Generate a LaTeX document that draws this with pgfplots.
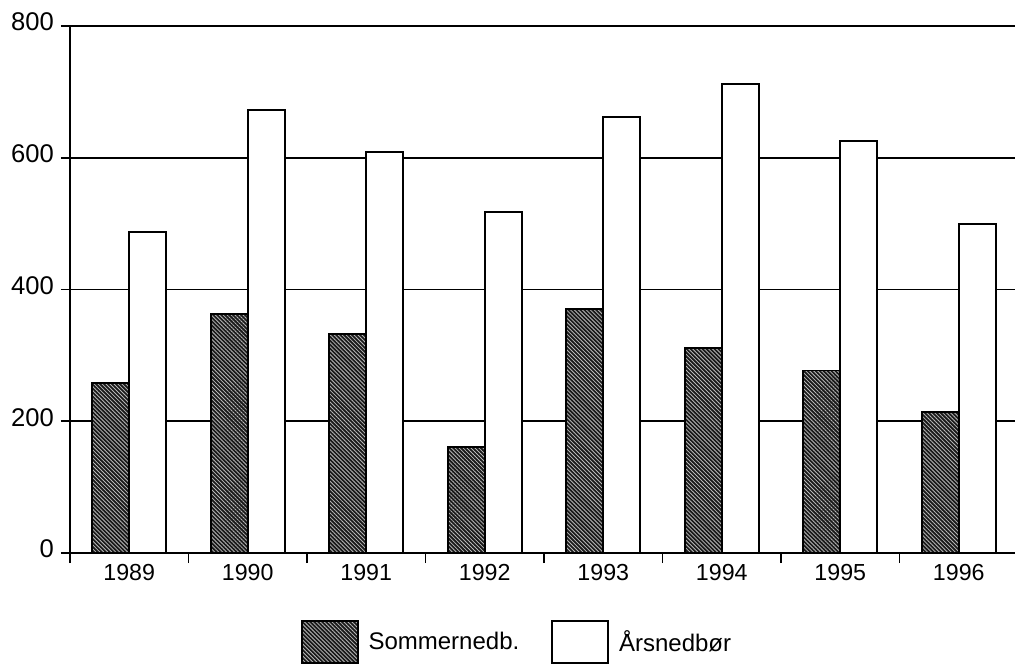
\documentclass[border=0pt]{standalone}
\usepackage{fontspec}
\setmainfont{Liberation Sans}
\usepackage{pgfplots}
\pgfplotsset{compat=1.18}
\usetikzlibrary{patterns.meta}

% summer and annual precipitation (mm)
\pgfplotstableread{
x sommer aar
0 258 487
1 363 672
2 332 609
3 161 517
4 370 662
5 311 712
6 277 625
7 214 500
}\nedbor

\tikzset{
  hatched/.style={fill=black!90,
    postaction={pattern={Lines[angle=-45,distance=1.4pt,line width=0.4pt]},
                pattern color=gray!55}},
}
\pgfplotsset{
  boxlegend/.style={legend image code/.code={%
    \draw[##1,line width=0.9pt] (0pt,-10.5pt) rectangle (28pt,10.5pt);}},
}

\begin{document}
\begin{tikzpicture}
\begin{axis}[
  at={(0,0)}, anchor=south west,
  scale only axis, width=474pt, height=263.5pt,
  ybar=0pt, bar width=18.5pt,
  xmin=-0.5, xmax=7.5, ymin=0, ymax=800,
  xtick={0,...,7},
  xticklabels={1989,1990,1991,1992,1993,1994,1995,1996},
  minor xtick={-0.5,0.5,...,7.5},
  ytick={0,200,400,600,800},
  axis x line*=bottom, axis y line*=left,
  axis line style={line width=0.95pt},
  ymajorgrids, major grid style={line width=0.95pt, black},
  tick align=outside,
  major tick length=4.5pt, minor tick length=5pt,
  every tick/.style={black, line width=0.95pt},
  every major x tick/.append style={draw=none},
  /pgf/number format/assume math mode=true,
  yticklabel style={font=\fontsize{12.8}{14}\selectfont, yshift=2pt},
  xticklabel style={font=\fontsize{11.6}{13}\selectfont, yshift=2.5pt},
  every axis plot post/.append style={/pgfplots/boxlegend},
  legend columns=2,
  legend style={at={(0.4725,-0.169)}, anchor=center, draw=none,
    font=\fontsize{12}{14}\selectfont,
    /tikz/every odd column/.append style={column sep=3pt},
    /tikz/every even column/.append style={column sep=14pt}},
]
\addplot[draw=black, line width=0.95pt, hatched]
  table[x=x, y=sommer] {\nedbor};
\addplot[draw=black, line width=0.95pt, fill=white]
  table[x=x, y=aar] {\nedbor};
\legend{Sommernedb., Årsnedbør}
\end{axis}
\pgfresetboundingbox
\path (-35pt,-56.5pt) rectangle (472.5pt,276.5pt);
\end{tikzpicture}
\end{document}
